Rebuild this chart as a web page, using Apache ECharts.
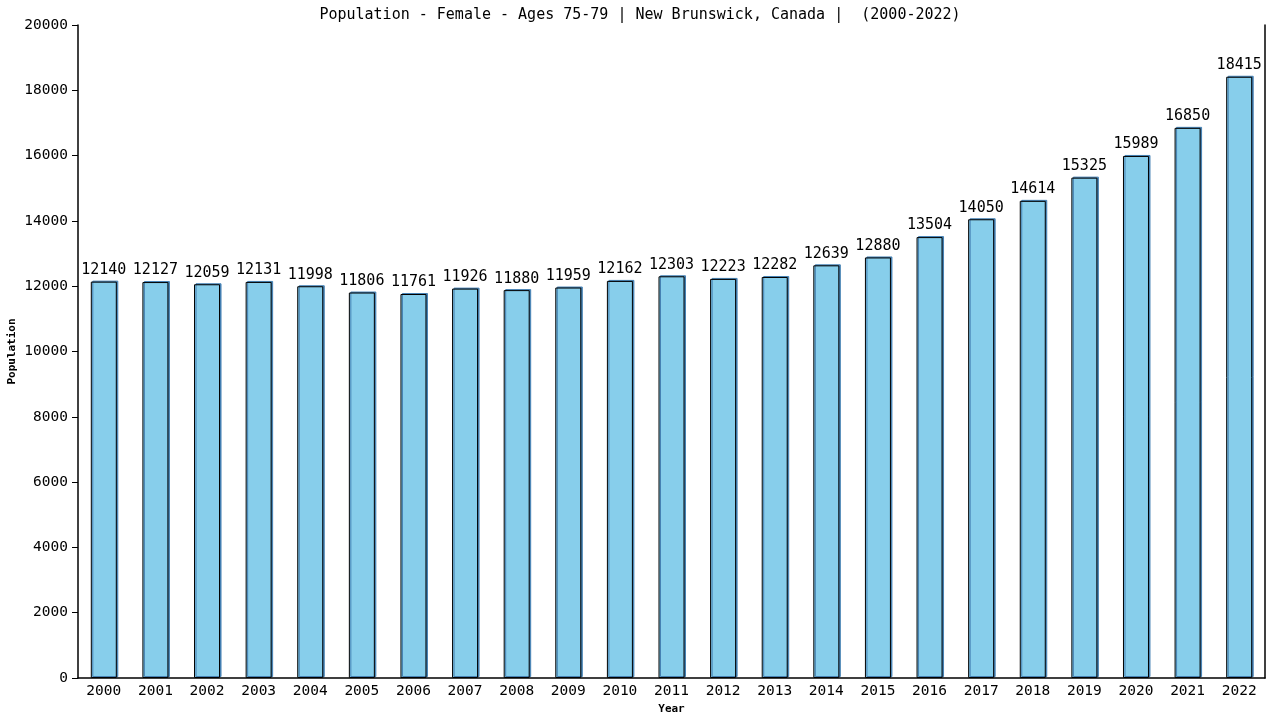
<!DOCTYPE html>
<html><head><meta charset="utf-8">
<script src="https://cdn.jsdelivr.net/npm/echarts@6/dist/echarts.min.js"></script>
<style>html,body{margin:0;padding:0;background:#fff}#c{width:1280px;height:720px}</style>
</head><body><div id="c"></div>
<script>
const titleText = 'Population - Female - Ages 75-79 | New Brunswick, Canada |  (2000-2022)';
const years = ['2000','2001','2002','2003','2004','2005','2006','2007','2008','2009','2010','2011','2012','2013','2014','2015','2016','2017','2018','2019','2020','2021','2022'];
const population = [12140,12127,12059,12131,11998,11806,11761,11926,11880,11959,12162,12303,12223,12282,12639,12880,13504,14050,14614,15325,15989,16850,18415];
const yTicks = { min: 0, max: 20000, interval: 2000 };
const font = 'DejaVu Sans Mono';

const chart = echarts.init(document.getElementById('c'), null, {renderer:'canvas'});
chart.setOption({
  animation: false,
  backgroundColor: '#fff',
  title: { text: titleText, left: 'center', top: 3, textStyle: { fontFamily: font, fontSize: 15, fontWeight: 'normal', color: '#000' } },
  grid: { left: 78, right: 15, top: 25, bottom: 42, containLabel: false, outerBoundsMode: 'none', show: true, borderColor: 'transparent' },
  xAxis: {
    type: 'category', data: years,
    name: 'Year', nameLocation: 'middle', nameGap: 26, nameMoveOverlap: false,
    nameTextStyle: { fontFamily: font, fontSize: 11, fontWeight: 'bold', color: '#000' },
    axisLine: { lineStyle: { color: '#000', width: 1.5 } },
    axisTick: { show: false },
    axisLabel: { fontFamily: font, fontSize: 14.5, color: '#000', margin: 6 },
  },
  yAxis: [{
    type: 'value', min: yTicks.min, max: yTicks.max, interval: yTicks.interval,
    name: 'Population', nameLocation: 'middle', nameGap: 60, nameRotate: 90, nameMoveOverlap: false,
    nameTextStyle: { fontFamily: font, fontSize: 11, fontWeight: 'bold', color: '#000' },
    axisLine: { show: true, lineStyle: { color: '#000', width: 1.5 } },
    axisTick: { show: true, length: 6, lineStyle: { color: '#000' } },
    axisLabel: { fontFamily: font, fontSize: 14.5, color: '#000', margin: 10, formatter: v => String(v) },
    splitLine: { show: false }
  }, {
    type: 'value', min: yTicks.min, max: yTicks.max, interval: yTicks.interval,
    position: 'right',
    axisLine: { show: true, lineStyle: { color: '#000', width: 1.5 } },
    axisTick: { show: false }, axisLabel: { show: false }, splitLine: { show: false }
  }],
  series: [{
    type: 'bar', data: population, barWidth: 26,
    itemStyle: { color: '#87CEEB', borderColor: '#000', borderWidth: 1,
      shadowColor: '#4682B4', shadowOffsetX: 1.5, shadowOffsetY: -1, shadowBlur: 0 },
    label: { show: true, position: 'top', distance: 4, fontFamily: font, fontSize: 15, color: '#000' }
  }]
});
</script></body></html>
